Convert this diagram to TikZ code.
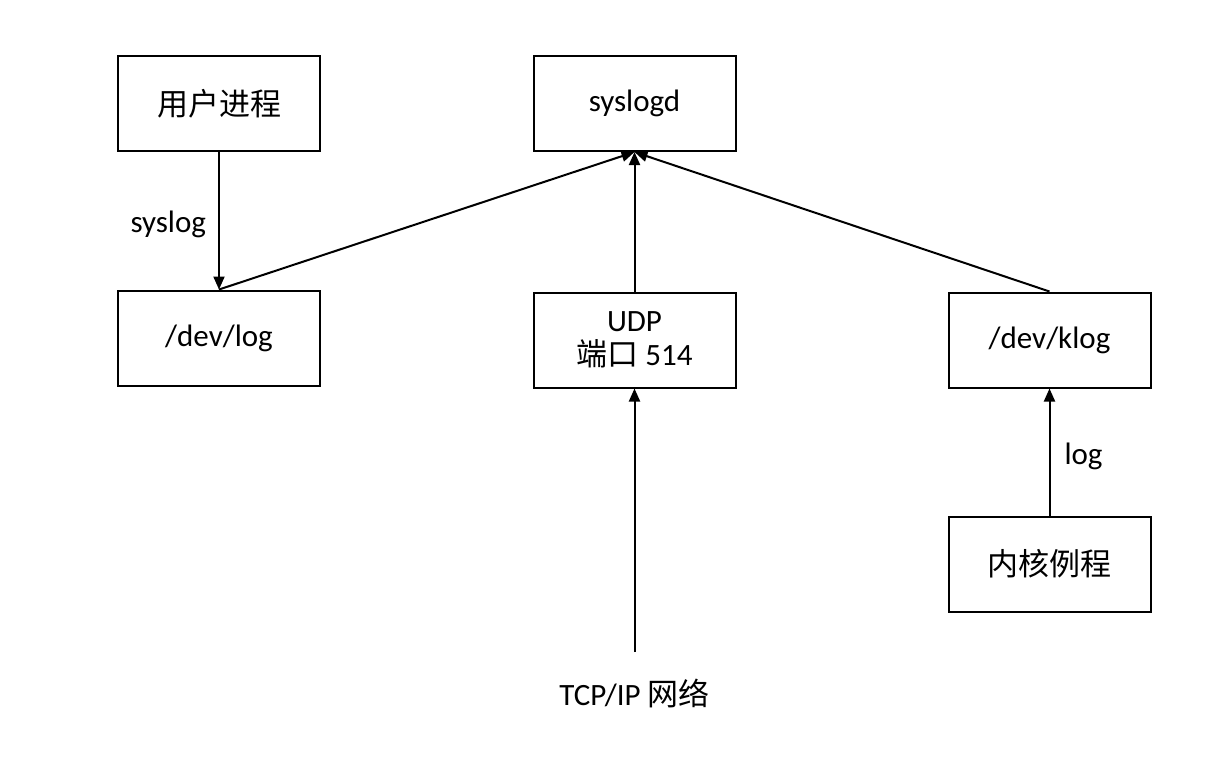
\documentclass[tikz,border=0pt]{standalone}
\usepackage{fontspec}
\setmainfont{Carlito}
\newfontfamily\cjk{Noto Sans CJK SC}
\usetikzlibrary{arrows.meta}
\begin{document}
\begin{tikzpicture}[
      x=0.5pt, y=-0.5pt,
      linet/.style={line width=1pt, draw=black, -{Triangle[length=6.5pt,width=5.5pt]}},
      punkt/.style={rectangle, draw=black, line width=1pt, text centered,
        minimum width=101pt, minimum height=47.5pt, inner sep=0pt,
        align=center},
      lbl/.style={inner sep=0pt}
    ]
    \fontsize{15.5}{18}\selectfont
    \useasboundingbox (0,0) rectangle (1216,772);
    \path (219,103.5) node(user) [punkt] {\cjk 用户进程}
    (634.5,103.5) node(syslogd) [punkt] {syslogd}
    (219,338) node(devlog) [punkt] {/dev/log}
    (634.5,340) node(udp) [punkt] {UDP\\[-1pt]{\cjk 端口} 514}
    (1049.5,340) node(klog) [punkt] {/dev/klog}
    (1049.5,564) node(kernel) [punkt] {\cjk 内核例程}
    (634.5,693) node(tcp) [lbl] {TCP/IP {\cjk 网络}};
    \draw[linet] (user) -- node[lbl, left=6pt, yshift=-2pt] {syslog} (devlog);
    \draw[linet] (devlog.north) -- (syslogd.south);
    \draw[linet] (udp) -- (syslogd);
    \draw[linet] (klog.north) -- (syslogd.south);
    \draw[linet] (kernel) -- node[lbl, right=7pt, yshift=-2pt] {log} (klog);
    \draw[linet] ([yshift=13pt]tcp.north) -- (udp);
  \end{tikzpicture}
\end{document}
